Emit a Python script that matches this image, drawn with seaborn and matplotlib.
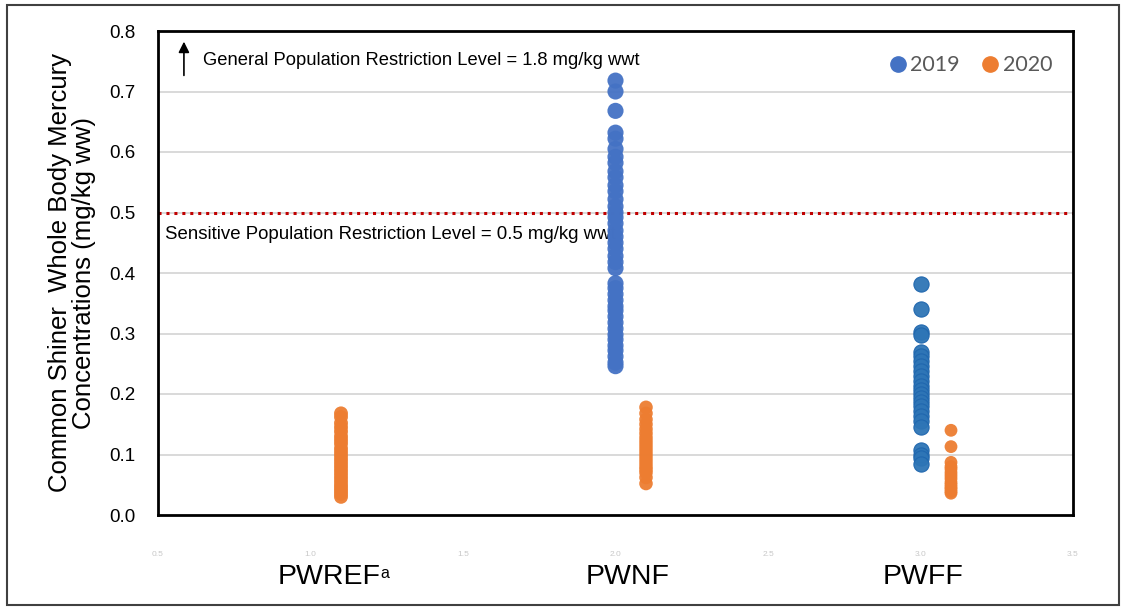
import numpy as np
import pandas as pd
import matplotlib
matplotlib.use("Agg")
import matplotlib.pyplot as plt
import matplotlib.patches as mpatches
from matplotlib.lines import Line2D
import seaborn as sns

# ---- data ----
sites = ["PWREF", "PWNF", "PWFF"]
site_pos = [1, 2, 3]
years = ["2019", "2020"]
year_offset = {"2019": 0.0, "2020": 0.1}

pwnf_2019 = [0.718, 0.700, 0.668, 0.632, 0.622, 0.605, 0.592, 0.582, 0.568, 0.558,
             0.545, 0.535, 0.522, 0.510, 0.500, 0.492, 0.482, 0.470, 0.460, 0.450,
             0.440, 0.428, 0.418, 0.408, 0.383, 0.375, 0.365, 0.355, 0.345, 0.338,
             0.328, 0.318, 0.308, 0.298, 0.290, 0.280, 0.272, 0.262, 0.252, 0.246]
pwff_2019 = [0.382, 0.340, 0.303, 0.298, 0.270, 0.262, 0.255, 0.247, 0.238, 0.230,
             0.221, 0.214, 0.207, 0.200, 0.194, 0.187, 0.180, 0.172, 0.163, 0.155,
             0.146, 0.108, 0.100, 0.094, 0.085]
pwref_2020 = [0.168, 0.162, 0.152, 0.145, 0.138, 0.130, 0.124, 0.118, 0.110, 0.104,
              0.098, 0.092, 0.086, 0.080, 0.074, 0.068, 0.062, 0.056, 0.050, 0.045,
              0.040, 0.035, 0.030]
pwnf_2020 = [0.178, 0.168, 0.158, 0.150, 0.142, 0.135, 0.128, 0.122, 0.116, 0.110,
             0.104, 0.098, 0.092, 0.086, 0.080, 0.075, 0.070, 0.062, 0.052]
pwff_2020 = [0.140, 0.113, 0.087, 0.080, 0.076, 0.070, 0.065, 0.060, 0.054, 0.050,
             0.046, 0.043, 0.039, 0.036]

sensitive_level = 0.5
y_ticks = [0.0, 0.1, 0.2, 0.3, 0.4, 0.5, 0.6, 0.7, 0.8]
x_ticks = [0.5, 1.0, 1.5, 2.0, 2.5, 3.0, 3.5]

series = [
    ("PWNF", "2019", pwnf_2019, "#4472C4", "none", 135),
    ("PWFF", "2019", pwff_2019, "#2E75B6", "#1F66AE", 120),
    ("PWREF", "2020", pwref_2020, "#ED7D31", "none", 100),
    ("PWNF", "2020", pwnf_2020, "#ED7D31", "none", 95),
    ("PWFF", "2020", pwff_2020, "#ED7D31", "none", 85),
]

sns.set_theme(style="white")
plt.rcParams["font.family"] = ["Liberation Sans", "DejaVu Sans"]
plt.rcParams["text.color"] = "black"
plt.rcParams["axes.labelcolor"] = "black"
plt.rcParams["ytick.color"] = "black"

fig = plt.figure(figsize=(11.23, 6.09), dpi=100)
ax = fig.add_axes([158/1123, 1-515/609, (1073-158)/1123, (515-31)/609])

for site, yr, vals, col, ec, sz in series:
    x = site_pos[sites.index(site)] + year_offset[yr]
    df = pd.DataFrame({"x": [x]*len(vals), "y": vals})
    sns.scatterplot(data=df, x="x", y="y", ax=ax, color=col, s=sz,
                    edgecolor=ec, linewidth=0.8 if ec != "none" else 0,
                    alpha=0.95, zorder=3, legend=False)

ax.set_xlim(0.5, 3.5)
ax.set_ylim(0, 0.8)
ax.set_yticks(y_ticks)
ax.set_yticklabels([f"{v:.1f}" for v in y_ticks], fontsize=13.5, color="black")
ax.set_xticks(x_ticks)
ax.set_xticklabels([f"{v:.1f}" for v in x_ticks], fontsize=6, color="#c8c8c8")
ax.tick_params(axis="x", length=0, pad=26)
ax.tick_params(axis="y", length=0, pad=16)
ax.set_xlabel("")
ax.set_ylabel("Common Shiner  Whole Body Mercury\nConcentrations (mg/kg ww)",
              fontsize=18.5, labelpad=10, linespacing=1.0, color="black")

for yv in y_ticks[1:-1]:
    ax.axhline(yv, color="#D9D9D9", lw=1.4, zorder=0)

for sp in ax.spines.values():
    sp.set_color("black")
    sp.set_linewidth(2)

ax.axhline(sensitive_level, color="#C00000", lw=2.2, linestyle=(0, (1, 1.6)), zorder=2)

ax.text(0.523, 0.463, "Sensitive Population Restriction Level = 0.5 mg/kg wwt",
        fontsize=13.4, va="center", ha="left", color="black", zorder=1)
ax.text(0.648, 0.752, "General Population Restriction Level = 1.8 mg/kg wwt",
        fontsize=13.2, va="center", ha="left", color="black")
ax.annotate("", xy=(0.585, 0.787), xytext=(0.585, 0.722),
            arrowprops=dict(arrowstyle="-|>", color="black", lw=1.2, mutation_scale=16))

# category labels
cat_x = [1.06, 2.04, 3.01]
for name, xp in zip(sites, cat_x):
    t = ax.text(xp, -0.129, name, transform=ax.get_xaxis_transform(),
                ha="center", va="center", fontsize=20.5, color="black")
    if name == "PWREF":
        ax.annotate("a", xy=(1.0, 0.95), xycoords=t, ha="left", va="top",
                    fontsize=11.5, color="black")

# legend
handles = [Line2D([], [], marker="o", ls="", color="#4472C4", markersize=11),
           Line2D([], [], marker="o", ls="", color="#ED7D31", markersize=11)]
leg = ax.legend(handles, years, loc="upper right", ncol=2, frameon=False,
                bbox_to_anchor=(1072/1123, 1-36/609), bbox_transform=fig.transFigure,
                handletextpad=0.1, columnspacing=0.9, handlelength=1.0,
                prop={"family": "Lato", "size": 15.5})
for txt in leg.get_texts():
    txt.set_color("#595959")

fig.patches.append(mpatches.Rectangle((7/1123, 1-605/609), (1119-7)/1123, (605-5)/609,
                                      transform=fig.transFigure, fill=False,
                                      edgecolor="#404040", lw=1.5))

fig.savefig("out.png", dpi=100)
